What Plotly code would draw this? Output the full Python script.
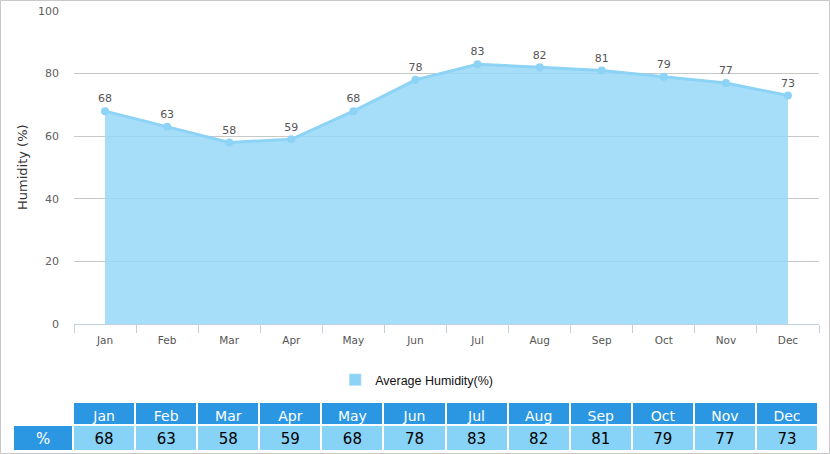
import plotly.graph_objects as go

months = ["Jan", "Feb", "Mar", "Apr", "May", "Jun", "Jul", "Aug", "Sep", "Oct", "Nov", "Dec"]
humidity = [68, 63, 58, 59, 68, 78, 83, 82, 81, 79, 77, 73]
series_name = "Average Humidity(%)"
y_title = "Humidity (%)"
row_label = "%"
y_ticks = [0, 20, 40, 60, 80, 100]

W, H = 830, 454
LINE = "#8CD3F5"
FILL = "rgba(150,215,248,0.85)"
HEAD = "#2B97E3"
CELL = "#87D3F7"
FONT = "DejaVu Sans"

def px_x(p):
    return p / W

def px_y(p):
    return 1 - p / H

fig = go.Figure()

fig.add_trace(go.Scatter(
    x=months, y=humidity, mode="none", fill="tozeroy",
    fillcolor=FILL, showlegend=False, hoverinfo="skip",
))
fig.add_trace(go.Scatter(
    x=months, y=humidity, mode="lines+markers+text",
    line=dict(color=LINE, width=3),
    marker=dict(color=LINE, size=8),
    text=[str(v) for v in humidity], textposition="top center",
    textfont=dict(family=FONT, size=11, color="#555555"),
    showlegend=False, cliponaxis=False,
))
# legend entry (square swatch)
fig.add_trace(go.Bar(
    x=[None], y=[None], name=series_name, marker=dict(color=LINE),
    showlegend=True,
))

fig.add_trace(go.Table(
    domain=dict(x=[px_x(13), px_x(818)], y=[0, px_y(402)]),
    columnwidth=[60] + [62] * len(months),
    header=dict(
        values=[""] + months,
        fill_color=["white"] + [HEAD] * len(months),
        font=dict(family=FONT, size=14, color="white"),
        align="center", height=23,
        line=dict(color="white", width=2),
    ),
    cells=dict(
        values=[[row_label]] + [[v] for v in humidity],
        fill_color=[HEAD] + [CELL] * len(months),
        font=dict(family=FONT, size=15, color=["white"] + ["black"] * len(months)),
        align="center", height=26,
        line=dict(color="white", width=2),
    ),
))

fig.update_layout(
    width=W, height=H,
    margin=dict(l=0, r=0, t=0, b=0, autoexpand=False),
    paper_bgcolor="white", plot_bgcolor="white",
    showlegend=True,
    legend=dict(
        orientation="h", x=0.502, xanchor="center",
        y=px_y(380), yanchor="middle",
        font=dict(family="Liberation Sans", size=12.5, color="#111111"),
        bgcolor="rgba(0,0,0,0)",
    ),
    xaxis=dict(
        domain=[px_x(74), px_x(819)],
        type="category", range=[-0.5, len(months) - 0.5],
        showline=True, linecolor="#C0D0E0", linewidth=1,
        ticks="outside", tickson="boundaries", ticklen=8, tickcolor="#C0D0E0",
        showgrid=False, zeroline=False, automargin=False,
        tickfont=dict(family=FONT, size=10.5, color="#555555"),
        ticklabelstandoff=6,
        fixedrange=True,
    ),
    yaxis=dict(
        domain=[px_y(324), px_y(11)],
        range=[0, 100], tickvals=y_ticks,
        showgrid=True, gridcolor="#C8C8C8", gridwidth=1,
        zeroline=False, showline=False, automargin=False,
        tickfont=dict(family=FONT, size=11, color="#606060"),
        ticklabelstandoff=14,
        fixedrange=True,
    ),
    annotations=[dict(
        text=y_title, xref="paper", yref="paper",
        x=px_x(22), y=px_y(167), textangle=-90,
        showarrow=False, xanchor="center", yanchor="middle",
        font=dict(family=FONT, size=13, color="#333333"),
    )],
    shapes=[dict(
        type="rect", xref="paper", yref="paper",
        x0=px_x(0.5), x1=px_x(W - 0.5), y0=px_y(H - 0.5), y1=px_y(0.5),
        line=dict(color="#C8C8C8", width=1),
    )],
)

fig.write_html(
    "out.html",
    config={"displayModeBar": False},
    post_script="document.body.style.margin='0';document.body.style.overflow='hidden';",
)
